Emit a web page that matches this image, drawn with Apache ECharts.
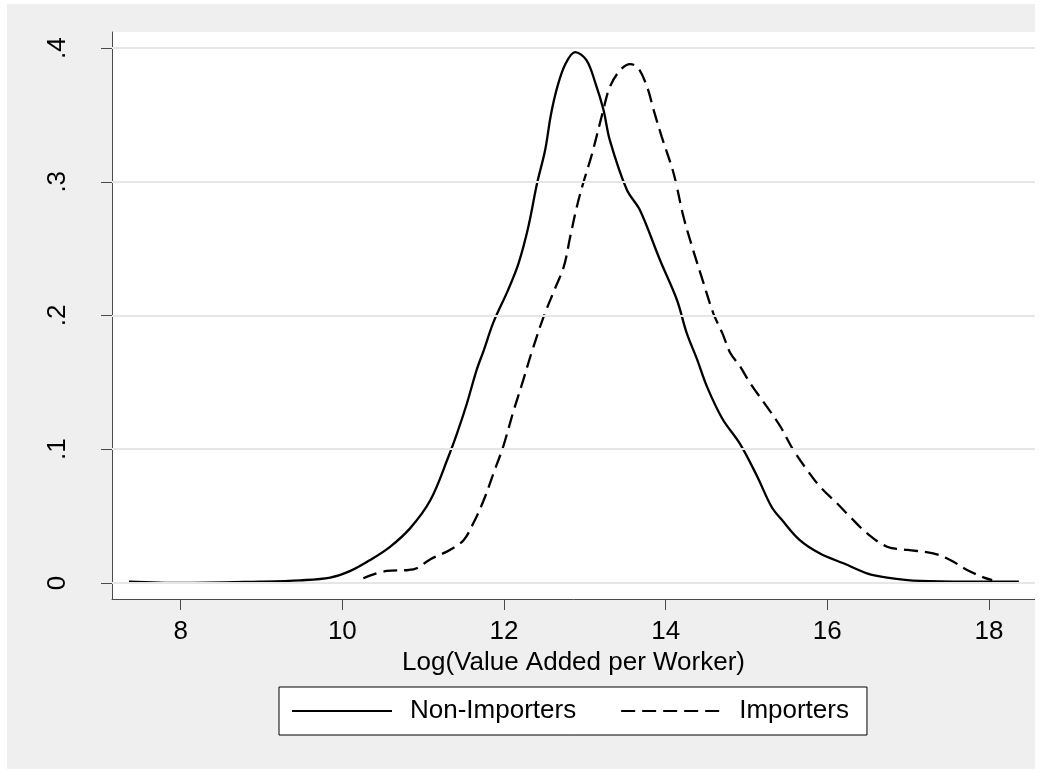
<!DOCTYPE html>
<html>
<head>
<meta charset="utf-8">
<script src="https://cdn.jsdelivr.net/npm/echarts@6/dist/echarts.min.js"></script>
<style>
html,body{margin:0;padding:0;background:#ffffff;}
#chart{position:absolute;left:7px;top:4px;width:1028px;height:765px;}
</style>
</head>
<body>
<div id="chart"></div>
<script>
// Tick labels
const xTicks = [8, 10, 12, 14, 16, 18];
const yTicks = [0, 0.1, 0.2, 0.3, 0.4];
const seriesNames = ['Non-Importers', 'Importers'];
const xTitle = 'Log(Value Added per Worker)';

// Non-Importers density: [x, density]
const nonImporters = [
  [7.36, 0.001], [8.0, 0.0], [8.98, 0.001], [9.48, 0.002], [9.85, 0.004],
  [10.10, 0.009], [10.34, 0.017], [10.59, 0.027], [10.84, 0.041], [11.09, 0.062],
  [11.31, 0.094], [11.42, 0.112], [11.54, 0.134], [11.66, 0.159], [11.75, 0.174],
  [11.87, 0.195], [12.05, 0.219], [12.18, 0.239], [12.30, 0.266], [12.41, 0.299],
  [12.51, 0.324], [12.58, 0.350], [12.66, 0.371], [12.76, 0.388], [12.88, 0.397], [13.02, 0.391],
  [13.13, 0.374], [13.23, 0.354], [13.31, 0.331], [13.52, 0.294], [13.68, 0.279],
  [13.93, 0.2415], [14.14, 0.2116], [14.26, 0.187], [14.39, 0.167], [14.51, 0.147],
  [14.70, 0.123], [14.92, 0.104], [15.13, 0.080], [15.31, 0.057], [15.44, 0.047],
  [15.66, 0.032], [15.91, 0.022], [16.20, 0.0147], [16.49, 0.0072], [16.74, 0.004],
  [17.15, 0.0015], [17.73, 0.001], [18.37, 0.001]
];

// Importers density: [x, density]
const importers = [
  [10.26, 0.0035], [10.55, 0.009], [10.82, 0.0097], [10.92, 0.011], [11.09, 0.0177],
  [11.33, 0.0247], [11.50, 0.032], [11.62, 0.0446], [11.75, 0.062], [11.87, 0.082],
  [11.99, 0.102], [12.12, 0.129], [12.24, 0.152], [12.34, 0.172], [12.49, 0.199],
  [12.63, 0.220], [12.74, 0.2365], [12.82, 0.259], [12.90, 0.281], [12.98, 0.299],
  [13.09, 0.321], [13.23, 0.354], [13.31, 0.371], [13.44, 0.3836], [13.56, 0.388],
  [13.66, 0.385], [13.77, 0.371], [13.85, 0.354], [13.95, 0.334], [14.10, 0.306],
  [14.22, 0.274], [14.34, 0.249], [14.47, 0.224], [14.59, 0.2016], [14.70, 0.187],
  [14.80, 0.172], [14.92, 0.162], [15.05, 0.149], [15.25, 0.132], [15.42, 0.117],
  [15.58, 0.0994], [15.75, 0.0845], [15.91, 0.072], [16.12, 0.0596], [16.28, 0.0496],
  [16.49, 0.0372], [16.74, 0.0271], [16.99, 0.0247], [17.31, 0.0222], [17.52, 0.0172],
  [17.73, 0.0097], [17.94, 0.004], [18.04, 0.0022]
];

const FONT = 'Liberation Sans, Arial, sans-serif';
const AXIS_COLOR = '#4a4a4a';

const chart = echarts.init(document.getElementById('chart'), null, {renderer: 'canvas'});
chart.setOption({
  backgroundColor: '#efefef',
  animation: false,
  grid: {
    left: 105, right: 0, top: 28, bottom: 170,
    show: true, backgroundColor: '#ffffff', borderWidth: 0
  },
  legend: {
    left: 272, top: 683,
    padding: [11, 18, 11, 12],
    backgroundColor: '#ffffff',
    borderColor: '#000000', borderWidth: 1, borderRadius: 0,
    itemWidth: 100, itemHeight: 14, itemGap: 44,
    itemStyle: {opacity: 0},
    data: seriesNames,
    textStyle: {fontFamily: FONT, fontSize: 26, color: '#000', padding: [0, 0, 0, 13]}
  },
  xAxis: {
    type: 'value', min: 7.15, max: 18.57,
    name: xTitle, nameLocation: 'middle', nameGap: 48,
    nameTextStyle: {fontFamily: FONT, fontSize: 26, color: '#000'},
    axisLine: {show: true, onZero: false, lineStyle: {color: AXIS_COLOR, width: 1}},
    axisTick: {show: true, length: 11, customValues: xTicks, lineStyle: {color: AXIS_COLOR}},
    axisLabel: {customValues: xTicks, margin: 20, fontFamily: FONT, fontSize: 26, color: '#000'},
    splitLine: {show: false}
  },
  yAxis: {
    type: 'value', min: -0.012, max: 0.412,
    axisLine: {show: true, onZero: false, lineStyle: {color: AXIS_COLOR, width: 1}},
    axisTick: {show: true, length: 11, customValues: yTicks, lineStyle: {color: AXIS_COLOR}},
    axisLabel: {
      customValues: yTicks, rotate: 90, margin: 41,
      fontFamily: FONT, fontSize: 26, color: '#000',
      formatter: v => (Math.abs(v) < 1e-9 ? '0' : '.' + Math.round(v * 10))
    },
    splitLine: {show: false}
  },
  series: [
    {
      name: seriesNames[0], type: 'line', data: nonImporters,
      symbol: 'none', smooth: 0.35, z: 3,
      lineStyle: {color: '#000', width: 2.3, type: 'solid'},
      itemStyle: {color: '#000'},
      markLine: {
        silent: true, symbol: ['none', 'none'], animation: false,
        label: {show: false},
        lineStyle: {color: '#e6e6e6', width: 2, type: 'solid'},
        data: yTicks.map(v => ({yAxis: v}))
      }
    },
    {
      name: seriesNames[1], type: 'line', data: importers,
      symbol: 'none', smooth: 0.35, z: 3,
      lineStyle: {color: '#000', width: 2.3, type: [14, 7]},
      itemStyle: {color: '#000'}
    }
  ]
});
</script>
</body>
</html>
